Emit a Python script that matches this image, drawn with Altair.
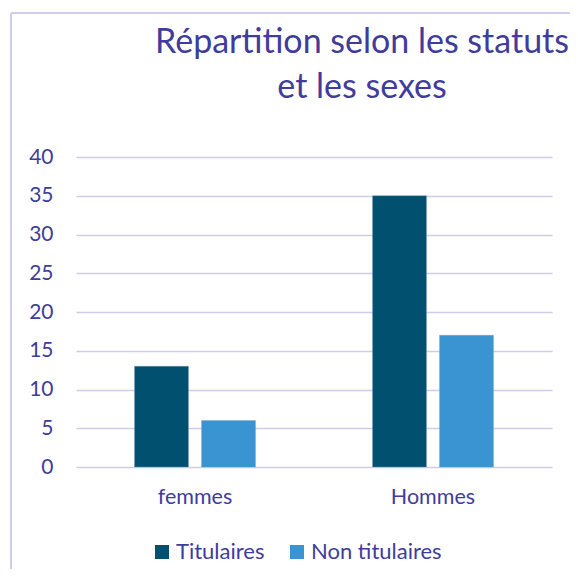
import altair as alt
import pandas as pd

sexes = ["femmes", "Hommes"]
statuts = ["Titulaires", "Non titulaires"]
titulaires = [13, 35]
non_titulaires = [6, 17]
y_ticks = [0, 5, 10, 15, 20, 25, 30, 35, 40]
couleurs = ["#01506F", "#3A94D1"]
titre = "Répartition selon les statuts\net les sexes"

TXT = "#3F3C9C"
GRID = "#CFCCEC"
FONT = "Lato"

rows = []
for i, s in enumerate(sexes):
    rows.append({"sexe": s, "statut": statuts[0], "valeur": titulaires[i]})
    rows.append({"sexe": s, "statut": statuts[1], "valeur": non_titulaires[i]})
df = pd.DataFrame(rows)

bars = alt.Chart(df).mark_bar(stroke="#7FA0B8", strokeWidth=0.6, strokeOpacity=0.6).encode(
    x=alt.X("sexe:N", sort=sexes, title=None,
            scale=alt.Scale(paddingInner=0, paddingOuter=0),
            axis=alt.Axis(labelAngle=0, domain=False, ticks=False, labelPadding=19,
                          labelFontSize=21.5, labelColor=TXT, labelFont=FONT)),
    xOffset=alt.XOffset("statut:N", sort=statuts,
                        scale=alt.Scale(paddingInner=0.194, paddingOuter=0.873)),
    y=alt.Y("valeur:Q", title=None,
            scale=alt.Scale(domain=[0, 40]),
            axis=alt.Axis(values=y_ticks, domain=False, ticks=False, labelPadding=23,
                          labelFontSize=21, labelColor=TXT, labelFont=FONT,
                          gridColor=GRID, gridWidth=1.5)),
    color=alt.Color("statut:N", sort=statuts, title=None,
                    scale=alt.Scale(domain=statuts, range=couleurs),
                    legend=alt.Legend(orient="none", legendX=75, legendY=384,
                                      direction="horizontal", symbolType="square",
                                      symbolSize=196, symbolStrokeWidth=0,
                                      labelFontSize=22, labelColor=TXT, labelFont=FONT,
                                      labelOffset=3, columnPadding=21)),
)

title_mark = alt.Chart(pd.DataFrame({"t": [titre]})).mark_text(
    font=FONT, fontSize=34, color=TXT, align="center", baseline="alphabetic",
    lineBreak="\n", lineHeight=45,
).encode(text="t:N", x=alt.value(286), y=alt.value(-104))

frame_left = alt.Chart(df).mark_rule(color=GRID, strokeWidth=1.5).encode(
    x=alt.value(-65), y=alt.value(-144), y2=alt.value(430))
frame_top = alt.Chart(df).mark_rule(color=GRID, strokeWidth=1.5).encode(
    x=alt.value(-65), x2=alt.value(520), y=alt.value(-144))

chart = alt.layer(frame_left, frame_top, bars, title_mark).properties(
    width=476, height=310,
    autosize=alt.AutoSizeParams(type="none"),
    padding={"left": 68, "top": 149, "right": 18, "bottom": 102},
).configure_view(stroke=None)

chart.save("out.html", embed_options={"renderer": "svg", "actions": False})
